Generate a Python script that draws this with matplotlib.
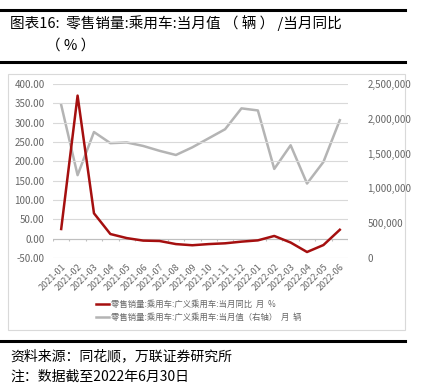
import numpy as np
import matplotlib.pyplot as plt
from matplotlib.lines import Line2D
from matplotlib.ticker import FuncFormatter

plt.rcParams['font.family'] = ['Noto Sans CJK SC', 'DejaVu Sans']

months = ['2021-01', '2021-02', '2021-03', '2021-04', '2021-05', '2021-06',
          '2021-07', '2021-08', '2021-09', '2021-10', '2021-11', '2021-12',
          '2022-01', '2022-02', '2022-03', '2022-04', '2022-05', '2022-06']
yoy = [25.0, 370.0, 65.6, 12.0, 1.5, -5.0, -6.0, -14.0, -17.0, -14.0, -12.0, -7.7,
       -4.4, 7.0, -10.0, -34.5, -16.5, 23.0]
sales = [2200000, 1190000, 1810000, 1650000, 1660000, 1610000, 1540000, 1480000,
         1590000, 1720000, 1850000, 2150000, 2120000, 1280000, 1620000, 1070000,
         1380000, 1980000]

red = '#A50F0F'
gray = '#B4B4B4'
tick_c = '#666666'

fig = plt.figure(figsize=(4.38, 3.87), dpi=100)
W, H = 438, 387

# header lines and title
fig.add_artist(Line2D([0, 405 / W], [1 - 10 / H] * 2, color='black', lw=2.2))
fig.add_artist(Line2D([0, 405 / W], [1 - 62 / H] * 2, color='black', lw=2.2))
fig.text(10 / W, 1 - 23 / H, '图表16:  零售销量:乘用车:当月值 （ 辆 ） /当月同比',
         fontsize=10.5, va='center', ha='left')
fig.text(46 / W, 1 - 46 / H, '（ % ）', fontsize=10.5, va='center', ha='left')

# chart border
fig.add_artist(plt.Rectangle((8 / W, 1 - 330 / H), 397 / W, 256 / H, fill=False,
                             edgecolor='#D9D9D9', lw=0.8))

ax = fig.add_axes([53 / W, 1 - 258 / H, 295 / W, 174 / H])
x = np.arange(len(months))

ax.set_ylim(-50, 400)
ax.set_yticks(np.arange(-50, 401, 50))
ax.yaxis.set_major_formatter(FuncFormatter(lambda v, p: f'{v:.2f}'))
ax.grid(axis='y', color='#D9D9D9', lw=0.8)
ax.set_axisbelow(True)
ax.set_xlim(-0.5, len(months) - 0.5)
for s in ax.spines.values():
    s.set_visible(False)
ax.tick_params(axis='y', length=0, labelsize=7, labelcolor=tick_c, pad=6)
ax.set_xticks(x)
ax.set_xticklabels(months, rotation=45, ha='right', rotation_mode='anchor',
                   fontsize=6.5, color=tick_c)
ax.tick_params(axis='x', length=0, pad=3)

# category axis at zero
ax.axhline(0, color='#BFBFBF', lw=0.8, zorder=1)
bounds = np.arange(len(months) + 1) - 0.5
ax.vlines(bounds, -5, 0, color='#BFBFBF', lw=0.8, zorder=1)

ax2 = ax.twinx()
ax2.set_ylim(0, 2500000)
ax2.set_yticks(np.arange(0, 2500001, 500000))
ax2.yaxis.set_major_formatter(FuncFormatter(lambda v, p: f'{int(v):,}'))
for s in ax2.spines.values():
    s.set_visible(False)
ax2.tick_params(axis='y', length=0, labelsize=7, labelcolor=tick_c, pad=14)

ax2.plot(x, sales, color=gray, lw=1.8, zorder=2)
ax.plot(x, yoy, color=red, lw=1.8, zorder=3)
ax.set_zorder(ax2.get_zorder() + 1)
ax.patch.set_visible(False)

handles = [Line2D([], [], color=red, lw=1.8), Line2D([], [], color=gray, lw=1.8)]
labels = ['零售销量:乘用车:广义乘用车:当月同比  月  %',
          '零售销量:乘用车:广义乘用车:当月值（右轴）  月  辆']
fig.legend(handles, labels, loc='center left', bbox_to_anchor=(88 / W, 1 - 311 / H),
           frameon=False, fontsize=6, labelcolor=tick_c, handlelength=1.6,
           handletextpad=0.3, labelspacing=0.5)

# footer
fig.add_artist(Line2D([0, 405 / W], [1 - 341 / H] * 2, color='black', lw=2.2))
fig.text(10 / W, 1 - 356 / H, '资料来源：同花顺，万联证券研究所', fontsize=10,
         style='italic', va='center', ha='left')
fig.text(10 / W, 1 - 377 / H, '注：数据截至2022年6月30日', fontsize=10,
         style='italic', va='center', ha='left')

fig.savefig('out.png', dpi=100)
